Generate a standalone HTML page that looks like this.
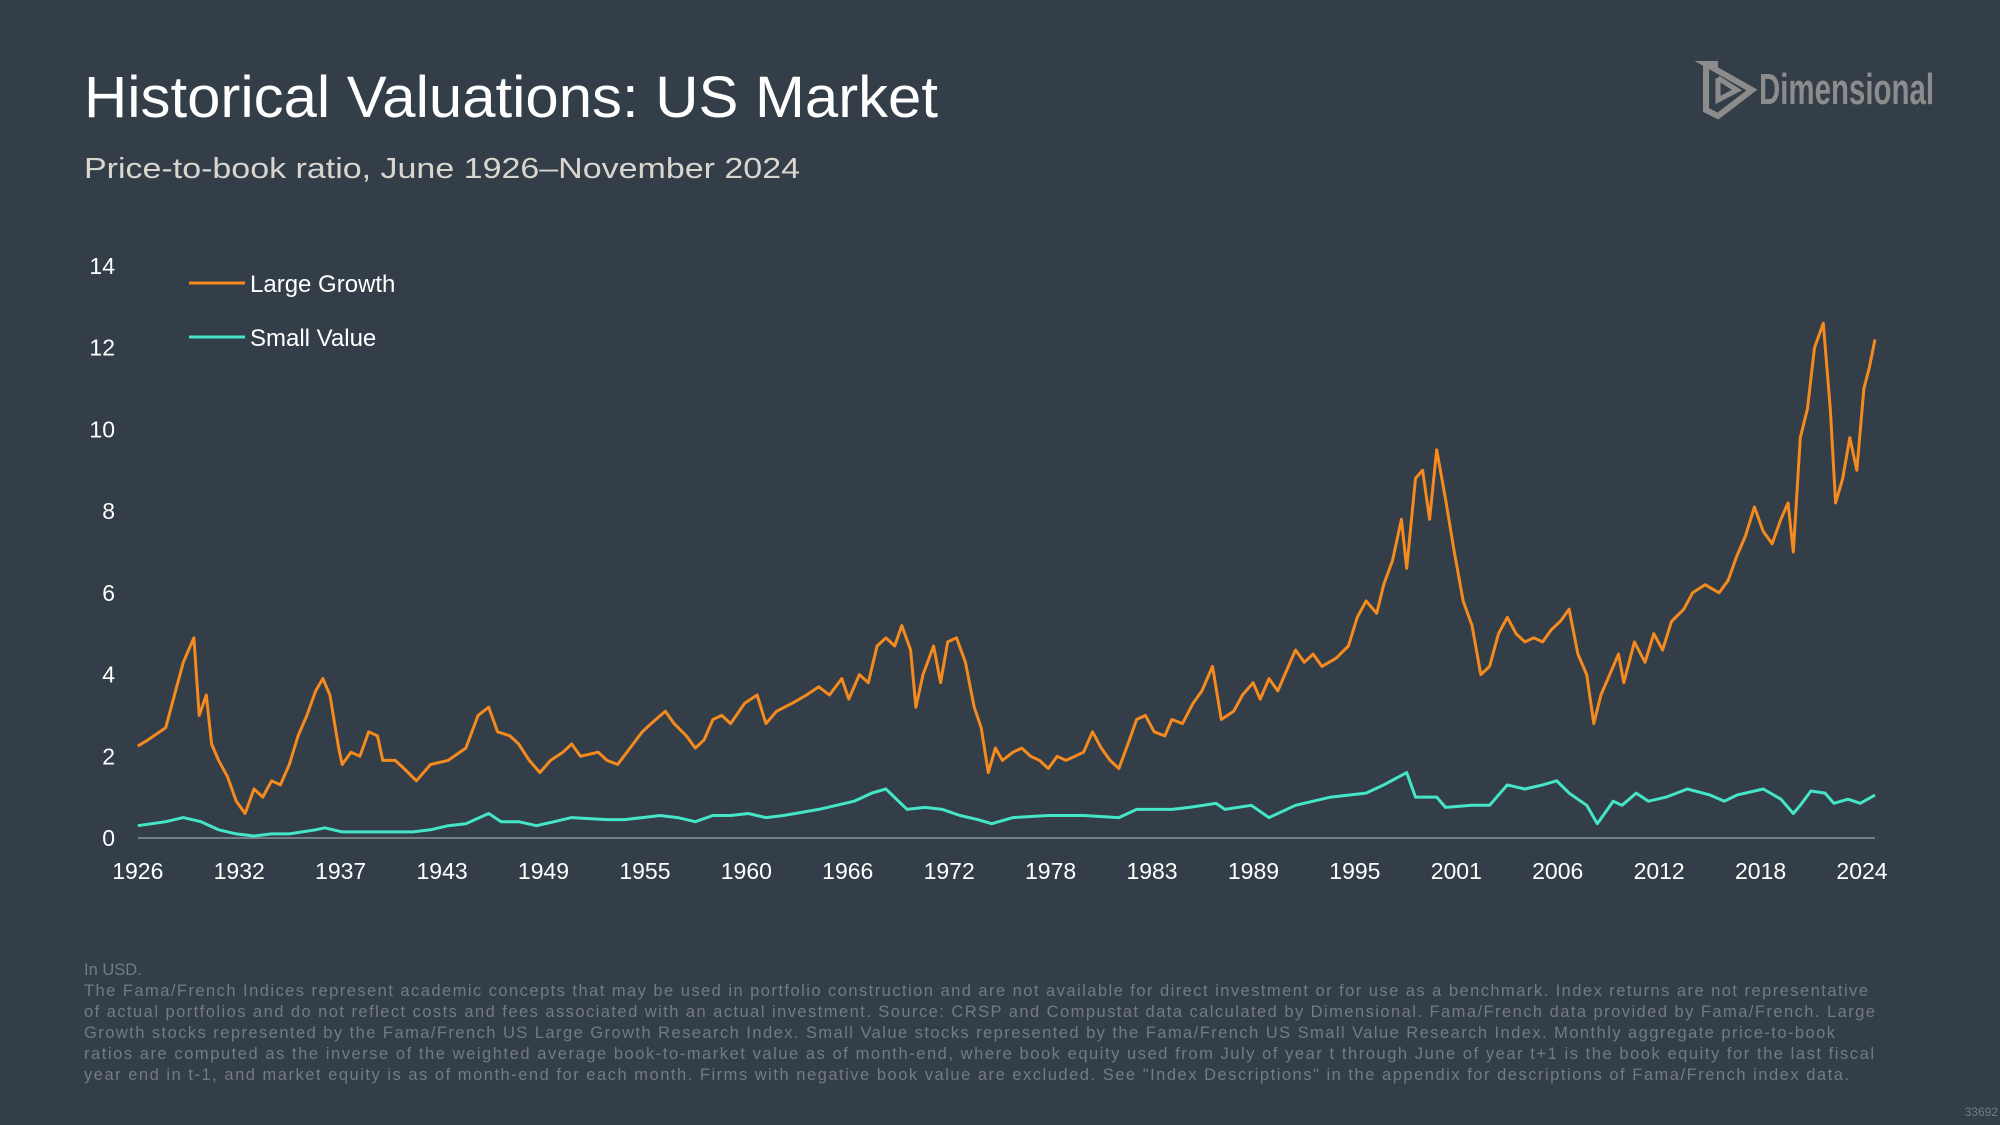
<!DOCTYPE html>
<html><head><meta charset="utf-8"><style>
html,body{margin:0;padding:0;background:#333e48;}
svg{display:block;font-family:"Liberation Sans",sans-serif;}
</style></head><body>
<svg id="chart" width="2000" height="1125" viewBox="0 0 2000 1125">
<rect width="2000" height="1125" fill="#333e48"/>
<text x="84" y="117" font-size="58" fill="#ffffff" textLength="854" lengthAdjust="spacingAndGlyphs">Historical Valuations: US Market</text>
<text x="84" y="178" font-size="29" fill="#d9d6d0" textLength="716" lengthAdjust="spacingAndGlyphs">Price-to-book ratio, June 1926–November 2024</text>
<g fill="none" stroke="#8c8c8c" stroke-width="6" stroke-linejoin="miter">
<polyline points="1706,64 1706,110 1718,116 1752,90 1706,64 1718,64" />
<polyline points="1718,78 1718,100 1737,90 1718,78" stroke-width="5"/>
<text x="1759" y="104" font-family="'Liberation Sans Narrow','Liberation Sans',sans-serif" font-weight="bold" font-size="44" fill="#8c8c8c" stroke="none" textLength="175" lengthAdjust="spacingAndGlyphs">Dimensional</text>
</g>
<g id="yaxis"></g>
<g id="xaxis"></g>
<g id="series"></g>
<g>
<g>
<line x1="189" y1="283" x2="245" y2="283" stroke="#f58a1f" stroke-width="3"/>
<text x="250" y="292" font-size="24" fill="#ffffff">Large Growth</text></g>
<g>
<line x1="189" y1="337" x2="245" y2="337" stroke="#45e6c8" stroke-width="3"/>
<text x="250" y="346" font-size="24" fill="#ffffff">Small Value</text></g>
</g>
<g font-size="16.5" fill="#737b84">
<text x="84" y="975">In USD.</text>
<text x="84" y="996" textLength="1784" lengthAdjust="spacing">The Fama/French Indices represent academic concepts that may be used in portfolio construction and are not available for direct investment or for use as a benchmark. Index returns are not representative</text>
<text x="84" y="1017" textLength="1791" lengthAdjust="spacing">of actual portfolios and do not reflect costs and fees associated with an actual investment. Source: CRSP and Compustat data calculated by Dimensional. Fama/French data provided by Fama/French. Large</text>
<text x="84" y="1038" textLength="1751" lengthAdjust="spacing">Growth stocks represented by the Fama/French US Large Growth Research Index. Small Value stocks represented by the Fama/French US Small Value Research Index. Monthly aggregate price-to-book</text>
<text x="84" y="1059" textLength="1790" lengthAdjust="spacing">ratios are computed as the inverse of the weighted average book-to-market value as of month-end, where book equity used from July of year t through June of year t+1 is the book equity for the last fiscal</text>
<text x="84" y="1080" textLength="1765" lengthAdjust="spacing">year end in t-1, and market equity is as of month-end for each month. Firms with negative book value are excluded. See "Index Descriptions" in the appendix for descriptions of Fama/French index data.</text>
</g>
<text x="1998" y="1116" font-size="12" fill="#737b84" text-anchor="end">33692</text>
</svg>
<script>
const yTicks=[0,2,4,6,8,10,12,14];
const xTickLabels=["1926","1932","1937","1943","1949","1955","1960","1966","1972","1978","1983","1989","1995","2001","2006","2012","2018","2024"];
const lgDates=[1926.42,1927,1928,1928.5,1929,1929.6,1929.9,1930.3,1930.6,1931,1931.5,1932,1932.5,1933,1933.5,1934,1934.5,1935,1935.5,1936,1936.5,1936.9,1937.3,1937.8,1938,1938.5,1939,1939.5,1940,1940.3,1941,1941.5,1942.2,1943,1944,1945,1945.7,1946.3,1946.8,1947.5,1948,1948.6,1949.2,1949.8,1950.5,1951,1951.5,1952.5,1953,1953.6,1954.3,1955,1955.5,1956.3,1956.8,1957.5,1958,1958.5,1959,1959.5,1960,1960.8,1961.5,1962,1962.6,1963.5,1964.3,1965,1965.6,1966.3,1966.7,1967.3,1967.8,1968.3,1968.8,1969.3,1969.7,1970.2,1970.5,1970.9,1971.5,1971.9,1972.3,1972.8,1973.3,1973.8,1974.2,1974.6,1975,1975.4,1976,1976.5,1977,1977.5,1978,1978.5,1979,1979.5,1980,1980.5,1981,1981.5,1982,1982.6,1983,1983.5,1984,1984.6,1985,1985.6,1986.2,1986.7,1987.3,1987.8,1988.5,1989,1989.6,1990,1990.5,1991,1991.5,1992,1992.5,1993,1993.5,1994.3,1995,1995.5,1996,1996.6,1997,1997.5,1998,1998.3,1998.8,1999.2,1999.6,2000,2000.5,2001,2001.5,2002,2002.5,2003,2003.5,2004,2004.5,2005,2005.5,2006,2006.5,2007,2007.5,2008,2008.5,2008.9,2009.3,2009.8,2010.3,2010.6,2011.2,2011.8,2012.3,2012.8,2013.3,2014,2014.5,2015.2,2016,2016.5,2017,2017.5,2018,2018.5,2019,2019.5,2019.9,2020.2,2020.6,2021,2021.4,2021.9,2022.3,2022.6,2023,2023.4,2023.8,2024.2,2024.5,2024.83];
const lgValues=[2.25,2.4,2.7,3.5,4.3,4.9,3.0,3.5,2.3,1.9,1.5,0.9,0.6,1.2,1.0,1.4,1.3,1.8,2.5,3.0,3.6,3.9,3.5,2.2,1.8,2.1,2.0,2.6,2.5,1.9,1.9,1.7,1.4,1.8,1.9,2.2,3.0,3.2,2.6,2.5,2.3,1.9,1.6,1.9,2.1,2.3,2.0,2.1,1.9,1.8,2.2,2.6,2.8,3.1,2.8,2.5,2.2,2.4,2.9,3.0,2.8,3.3,3.5,2.8,3.1,3.3,3.5,3.7,3.5,3.9,3.4,4.0,3.8,4.7,4.9,4.7,5.2,4.6,3.2,4.0,4.7,3.8,4.8,4.9,4.3,3.2,2.7,1.6,2.2,1.9,2.1,2.2,2.0,1.9,1.7,2.0,1.9,2.0,2.1,2.6,2.2,1.9,1.7,2.4,2.9,3.0,2.6,2.5,2.9,2.8,3.3,3.6,4.2,2.9,3.1,3.5,3.8,3.4,3.9,3.6,4.1,4.6,4.3,4.5,4.2,4.4,4.7,5.4,5.8,5.5,6.2,6.8,7.8,6.6,8.8,9.0,7.8,9.5,8.3,7.0,5.8,5.2,4.0,4.2,5.0,5.4,5.0,4.8,4.9,4.8,5.1,5.3,5.6,4.5,4.0,2.8,3.5,4.0,4.5,3.8,4.8,4.3,5.0,4.6,5.3,5.6,6.0,6.2,6.0,6.3,6.9,7.4,8.1,7.5,7.2,7.8,8.2,7.0,9.8,10.5,12.0,12.6,10.5,8.2,8.8,9.8,9.0,11.0,11.5,12.2];
const svDates=[1926.42,1928,1929,1930,1931,1932,1933,1934,1935,1936.5,1937,1938,1940,1942,1943,1944,1945,1946.3,1947,1948,1949,1950,1951,1953,1954,1955,1956,1957,1958,1959,1960,1961,1962,1963,1965,1966,1967,1968,1968.8,1970,1971,1972,1973,1974,1974.8,1976,1978,1980,1982,1983,1985,1986,1987.5,1988,1989.5,1990.5,1992,1994,1996,1997,1998.3,1998.8,2000,2000.5,2002,2003,2004,2005,2006,2006.8,2007.5,2008.5,2009.1,2010,2010.5,2011.3,2012,2013,2014.2,2015.5,2016.3,2017,2018.5,2019.5,2020.2,2020.6,2021.2,2022,2022.5,2023.3,2024,2024.83];
const svValues=[0.3,0.4,0.5,0.4,0.2,0.1,0.05,0.1,0.1,0.2,0.25,0.15,0.15,0.15,0.2,0.3,0.35,0.6,0.4,0.4,0.3,0.4,0.5,0.45,0.45,0.5,0.55,0.5,0.4,0.55,0.55,0.6,0.5,0.55,0.7,0.8,0.9,1.1,1.2,0.7,0.75,0.7,0.55,0.45,0.35,0.5,0.55,0.55,0.5,0.7,0.7,0.75,0.85,0.7,0.8,0.5,0.8,1.0,1.1,1.3,1.6,1.0,1.0,0.75,0.8,0.8,1.3,1.2,1.3,1.4,1.1,0.8,0.35,0.9,0.8,1.1,0.9,1.0,1.2,1.05,0.9,1.05,1.2,0.95,0.6,0.8,1.15,1.1,0.85,0.95,0.85,1.05];

const NS="http://www.w3.org/2000/svg";
const X0=137.8, X1=1875, T0=1926.42, T1=2024.83, Y0=838, YPU=40.86;
function xs(t){return X0+(t-T0)*(X1-X0)/(T1-T0);}
function ys(v){return Y0-v*YPU;}
function mk(tag,attrs,parent){const e=document.createElementNS(NS,tag);for(const k in attrs)e.setAttribute(k,attrs[k]);parent.appendChild(e);return e;}

const yaxis=document.getElementById('yaxis');
yTicks.forEach(v=>{
  const t=mk('text',{x:115,y:ys(v)+8,'font-size':23,fill:'#ffffff','text-anchor':'end'},yaxis);
  
  
  t.textContent=v;
});
const xaxis=document.getElementById('xaxis');
const axl=mk('line',{x1:X0,y1:Y0,x2:X1,y2:Y0,stroke:'#8a9098','stroke-width':1.5},xaxis);


const step=(1862-137.8)/(xTickLabels.length-1);
xTickLabels.forEach((l,i)=>{
  const t=mk('text',{x:137.8+i*step,y:879,'font-size':23,fill:'#ffffff','text-anchor':'middle'},xaxis);
  
  
  t.textContent=l;
});
const series=document.getElementById('series');
function path(d,v,color,name){
  const p=mk('path',{d:d.map((t,i)=>(i?'L':'M')+xs(t).toFixed(1)+','+ys(v[i]).toFixed(1)).join(''),fill:'none',stroke:color,'stroke-width':3,'stroke-linejoin':'round'},series);
  
  
}
path(svDates,svValues,'#45e6c8','small-value-line');
path(lgDates,lgValues,'#f58a1f','large-growth-line');
</script>
</body></html>
